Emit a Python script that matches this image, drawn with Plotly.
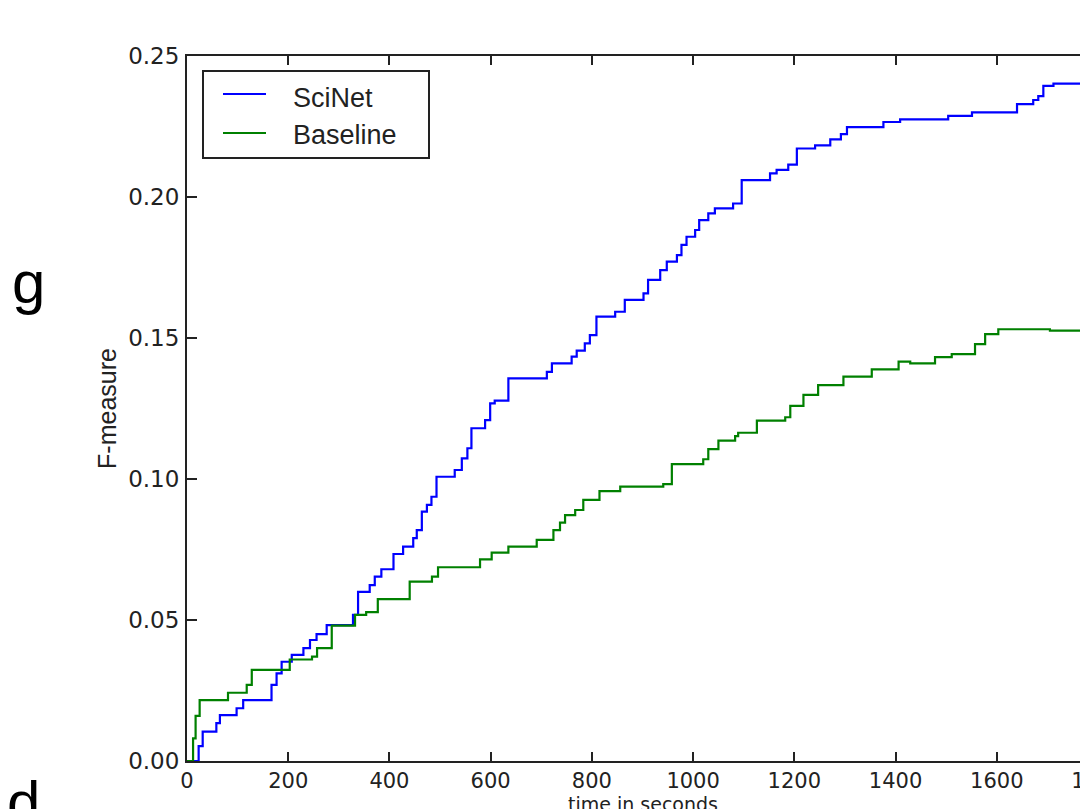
import plotly.graph_objects as go

# ---- data ----
scinet_t = [0, 23, 31, 58, 65, 98, 111, 167, 177, 187, 207, 230, 243, 256, 276, 328, 338,
            361, 371, 384, 408, 427, 447, 454, 464, 474, 483, 493, 529, 543, 554, 562, 589,
            599, 608, 635, 711, 721, 760, 770, 786, 796, 809, 846, 865, 902, 911, 935, 948,
            968, 977, 987, 1004, 1012, 1030, 1043, 1079, 1096, 1152, 1165, 1188, 1205, 1241,
            1271, 1292, 1304, 1376, 1409, 1504, 1551, 1640, 1672, 1682, 1692, 1712, 1800]
scinet_f = [0.0, 0.0053, 0.0104, 0.0134, 0.0163, 0.0187, 0.0216, 0.027, 0.0311, 0.0352,
            0.0376, 0.040, 0.0429, 0.045, 0.0482, 0.0518, 0.060, 0.0624, 0.0654, 0.068,
            0.0734, 0.076, 0.079, 0.0819, 0.0884, 0.0908, 0.0937, 0.1008, 0.1032, 0.1073,
            0.1109, 0.118, 0.1209, 0.1268, 0.1278, 0.1357, 0.138, 0.141, 0.1434, 0.1455,
            0.1481, 0.151, 0.1576, 0.1593, 0.1635, 0.1658, 0.1706, 0.1741, 0.1771, 0.1794,
            0.183, 0.1859, 0.1883, 0.1918, 0.1942, 0.196, 0.1977, 0.206, 0.2084, 0.2096,
            0.2115, 0.2172, 0.2183, 0.2204, 0.2223, 0.2248, 0.2266, 0.2275, 0.2288, 0.2300,
            0.2329, 0.2344, 0.2358, 0.2394, 0.2402, 0.2402]

baseline_t = [0, 10, 12, 17, 25, 81, 118, 128, 203, 247, 257, 286, 332, 354, 377, 440, 484,
              496, 579, 602, 635, 691, 724, 737, 747, 767, 783, 815, 856, 941, 958, 1020,
              1030, 1050, 1083, 1089, 1126, 1182, 1192, 1218, 1247, 1297, 1353, 1406, 1429,
              1478, 1511, 1557, 1577, 1603, 1705, 1800]
baseline_f = [0.0, 0.0, 0.008, 0.016, 0.0216, 0.0242, 0.027, 0.0323, 0.036, 0.037, 0.040,
              0.048, 0.0518, 0.0528, 0.0574, 0.0636, 0.0654, 0.0687, 0.0715, 0.0739, 0.076,
              0.0784, 0.0819, 0.0845, 0.0872, 0.089, 0.0926, 0.0957, 0.0973, 0.0982, 0.1053,
              0.107, 0.1106, 0.1136, 0.1152, 0.1164, 0.1207, 0.1219, 0.1259, 0.1298, 0.1333,
              0.1363, 0.1389, 0.1416, 0.141, 0.1432, 0.1443, 0.1478, 0.1514, 0.1531, 0.1526,
              0.1526]

series_names = ["SciNet", "Baseline"]
series_colors = ["#0000ff", "#008000"]
x_ticks = [0, 200, 400, 600, 800, 1000, 1200, 1400, 1600, 1800]
y_ticks = [0.0, 0.05, 0.10, 0.15, 0.20, 0.25]
x_title = "time in seconds"
y_title = "F-measure"

# ---- layout geometry (pixels); the page body adds an 8px offset ----
OFF = 8
L, T, B, R = 179, 48, 48, 60
PW, PH = 911, 705
W, H = L + PW + R, T + PH + B


def px(xp):
    return (xp - OFF - L) / PW


def py(yp):
    return (OFF + T + PH - yp) / PH


fig = go.Figure()
for t, f, name, col in [(scinet_t, scinet_f, series_names[0], series_colors[0]),
                         (baseline_t, baseline_f, series_names[1], series_colors[1])]:
    fig.add_trace(go.Scatter(x=t, y=f, mode="lines", name=name,
                             line=dict(color=col, width=2.2, shape="hv"),
                             showlegend=False))

axis_col = "#222222"
tick_font = dict(family="DejaVu Sans", size=21, color="#222222")

fig.update_layout(
    width=W, height=H,
    margin=dict(l=L, r=R, t=T, b=B, pad=0, autoexpand=False),
    paper_bgcolor="white", plot_bgcolor="white",
    xaxis=dict(range=[0, 1800], tickvals=x_ticks, ticktext=[str(v) for v in x_ticks],
               ticks="inside", ticklen=9, tickwidth=1.5, tickcolor=axis_col,
               showline=True, linecolor=axis_col, linewidth=2, mirror="ticks",
               showgrid=False, zeroline=False, tickfont=tick_font,
               automargin=False, ticklabeloverflow="allow"),
    yaxis=dict(range=[0, 0.25], tickvals=y_ticks, tickformat=".2f",
               ticks="inside", ticklen=10, tickwidth=1.5, tickcolor=axis_col,
               showline=True, linecolor=axis_col, linewidth=2, mirror="ticks",
               showgrid=False, zeroline=False, tickfont=dict(tick_font, size=23),
               ticklabelstandoff=1, automargin=False,
               title=dict(text=y_title, font=dict(family="Liberation Sans", size=25, color="#222222"),
                          standoff=4)),
)

# x-axis title, centred under the full 0..1800 axis (cut by the window bottom)
fig.add_annotation(x=(x_ticks[0] + x_ticks[-1]) / 2, xref="x", y=py(804), yref="paper",
                   text=x_title, showarrow=False, xanchor="center", yanchor="middle",
                   font=dict(family="DejaVu Sans", size=19, color="#222222"))

# ---- legend box ----
fig.add_shape(type="rect", xref="paper", yref="paper",
              x0=px(203), x1=px(429), y0=py(158), y1=py(71),
              line=dict(color="#222222", width=2), fillcolor="white")
leg_y = [94, 133]
for i, (name, col) in enumerate(zip(series_names, series_colors)):
    fig.add_shape(type="line", xref="paper", yref="paper",
                  x0=px(223), x1=px(266), y0=py(leg_y[i]), y1=py(leg_y[i]),
                  line=dict(color=col, width=2.2))
    fig.add_annotation(x=px(291), xref="paper", y=py(leg_y[i] + 4 - 2 * i), yref="paper",
                       text=name, showarrow=False, xanchor="left", yanchor="middle",
                       font=dict(family="Liberation Sans", size=27, color="#222222"))

# fragments of the surrounding slide text, cut by the crop
big_font = dict(family="Liberation Sans", size=60, color="black")
fig.add_annotation(x=px(47), xref="paper", y=py(282), yref="paper", text="g",
                   showarrow=False, xanchor="right", yanchor="middle", font=big_font)
fig.add_annotation(x=px(42), xref="paper", y=py(802), yref="paper", text="d",
                   showarrow=False, xanchor="right", yanchor="middle", font=big_font)

fig.write_html("out.html")
